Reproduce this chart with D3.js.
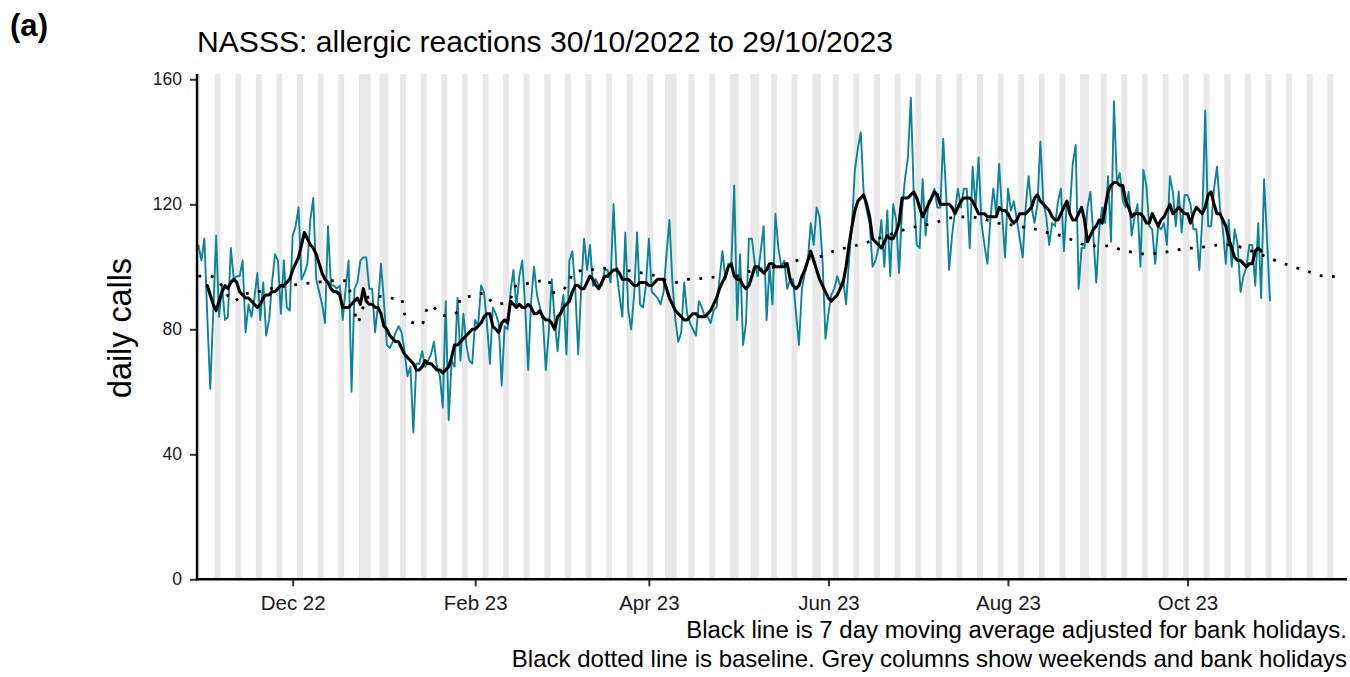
<!DOCTYPE html>
<html>
<head>
<meta charset="utf-8">
<script src="https://cdn.jsdelivr.net/npm/d3@7"></script>
<style>
  body { margin: 0; background: #ffffff; }
  svg { display: block; }
  text { font-family: "Liberation Sans", Arial, Helvetica, sans-serif; }
</style>
</head>
<body>
<svg id="chart" width="1350" height="677"></svg>
<script>
// ---------------- DATA ----------------
const panelLabel = "(a)";
const titleText = "NASSS: allergic reactions 30/10/2022 to 29/10/2023";
const yAxisTitle = "daily calls";
const captionLines = [
  "Black line is 7 day moving average adjusted for bank holidays.",
  "Black dotted line is baseline. Grey columns show weekends and bank holidays"
];

// first day of the daily series
const seriesStart = "2022-10-30";

// daily calls (one value per day from 30/10/2022 to 29/10/2023)
const dailyCalls = [
  107,102,109,84,61,85,110,
  84,94,83,84,106,96,97,
  97,102,79,88,84,90,98,
  83,95,78,83,95,104,102,
  85,102,87,86,110,113,119,
  96,98,101,115,122,96,92,
  88,82,113,94,94,93,94,
  83,93,102,60,93,95,102,
  103,103,93,93,79,88,101,
  89,75,74,76,79,81,79,
  73,65,68,47,69,69,73,
  68,70,72,76,68,65,55,
  89,51,70,68,90,70,85,
  75,70,69,83,81,94,92,
  82,69,87,85,82,62,81,
  80,92,99,87,97,102,87,
  67,89,100,91,87,83,67,
  79,96,83,73,85,91,72,
  102,105,93,72,93,109,99,
  107,94,96,94,94,99,99,
  95,120,99,91,84,111,86,
  80,91,111,88,87,94,109,
  92,91,90,88,92,104,115,
  95,83,76,79,95,85,82,
  80,78,89,87,84,84,82,
  86,87,96,105,96,101,100,
  126,83,104,75,82,109,109,
  101,97,105,113,83,100,88,
  117,106,100,102,93,96,96,
  85,75,93,98,102,114,107,
  119,116,102,77,85,91,93,
  97,94,96,88,102,114,131,
  138,143,123,118,114,100,102,
  106,115,100,118,97,120,115,
  98,118,128,135,154,123,107,
  106,128,110,121,122,125,119,
  119,141,123,99,110,118,125,
  119,125,125,106,132,119,135,
  114,107,101,115,125,117,133,
  117,103,125,118,121,115,109,
  103,119,129,119,114,120,140,
  121,116,107,114,113,121,125,
  105,121,118,133,139,93,106,
  106,119,124,110,95,112,119,
  114,129,108,153,127,130,121,
  119,124,110,116,120,100,131,
  126,113,112,101,113,112,114,
  107,129,124,113,124,111,123,
  123,120,112,112,99,115,150,
  113,113,125,132,119,112,101,
  115,100,112,107,92,97,100,
  107,107,94,114,90,128,109,
  89
];

// 7-day moving average, starts 3 days after seriesStart
const movingAvgOffset = 3;
const movingAvg = [
  94,91,88,86,89,92,94,93,95,96,
  95,92,91,90,90,89,88,87,88,90,
  91,91,92,92,93,94,94,95,96,99,
  101,103,107,111,109,107,106,104,101,98,
  96,95,93,92,92,91,87,87,87,88,
  89,90,88,93,89,88,88,87,87,85,
  81,80,78,77,76,76,74,72,71,70,
  69,67,67,68,70,69,69,68,67,67,
  66,67,68,71,75,75,76,77,78,79,
  80,80,81,82,84,85,85,81,80,79,
  82,83,82,89,88,87,88,87,87,88,
  87,85,85,86,84,83,83,82,80,84,
  85,87,88,89,92,94,94,93,93,95,
  97,96,94,93,95,97,97,98,99,99,
  98,96,96,96,95,94,94,95,95,95,
  94,94,95,96,96,96,93,90,88,86,
  85,84,83,83,84,85,85,84,84,84,
  85,86,88,90,93,95,97,100,101,97,
  96,96,94,93,94,97,100,100,99,98,
  99,101,101,100,100,100,100,101,96,94,
  93,94,97,99,102,105,102,99,96,94,
  92,90,89,90,91,93,95,100,107,113,
  118,121,122,123,120,116,109,108,107,106,
  108,110,109,109,111,114,122,122,122,123,
  124,122,119,116,118,120,122,124,123,120,
  120,120,120,119,117,119,121,122,122,122,
  121,119,117,117,117,116,116,116,116,119,
  118,118,117,115,114,115,117,117,117,118,
  119,122,123,121,120,119,118,116,115,115,
  117,119,121,117,115,115,117,119,115,108,
  110,112,113,115,114,119,124,126,127,127,
  126,126,121,119,116,117,117,117,116,114,
  114,117,115,113,115,116,118,120,117,118,
  119,118,117,117,114,117,119,118,117,119,
  123,124,120,117,117,115,113,109,106,103,
  102,102,101,100,101,101,105,106,105
];

// baseline (day offset from seriesStart, value)
const baselineDays = [0,4,7,12,15,20,27,31,35,40,44,48,50,53,54,55,57,60,65,69,70,72,76,77,79,81,84,88,89,93,97,99,102,106,107,111,115,119,120,124,126,128,133,137,146,150,154,162,166,170,175,183,187,196,204,212,216,220,225,229,233,241,246,250,254,258,262,267,271,275,279,284,288,292,296,300,305,309,313,317,322,326,330,334,339,343,347,351,356,360,364,368,372,377,381,385,389];
const baselineValues = [97,97,95,89,91,92,93.5,94,94.5,95,95.5,95.6,95.5,86,82,84,90,90.7,90,89.7,85,82.5,81.5,85,87.7,86,84.3,85.5,89.9,90.7,91.5,89.4,88.1,89.6,93.5,94.5,95.3,95.8,91.7,92.8,95.8,98.5,99,99.5,98.8,98.1,97.4,95,96,96.2,96.7,97.1,98.5,100,102.2,103.5,105.1,106.1,107.2,108.4,109.7,112.2,113.3,114,115.3,116,116,115.2,114.1,113.6,112.9,112.1,111,110.2,108.9,107.3,106.7,106.7,105.6,104.7,104.1,104.4,104.9,105.6,106.1,106.5,107,107,105.6,104.3,102.7,101.3,100,98.5,97.2,96.9,97.4];

// bank holidays (grey columns together with weekends)
const bankHolidays = ["2022-12-26","2022-12-27","2023-01-02","2023-04-07","2023-04-10","2023-05-01","2023-05-08","2023-05-29","2023-08-28"];

// axes
const yTicks = [0, 40, 80, 120, 160];
const xTickDates = ["2022-12-01","2023-02-01","2023-04-01","2023-06-01","2023-08-01","2023-10-01"];
const xTickLabels = ["Dec 22","Feb 23","Apr 23","Jun 23","Aug 23","Oct 23"];
const xDomain = ["2022-10-29T12:00:00Z", "2023-11-24T04:00:00Z"];
const yDomain = [0, 161.7];

// ---------------- DRAW ----------------
const svg = d3.select("#chart");
const plot = { left: 197, right: 1347, top: 74, bottom: 579.3 };

const x = d3.scaleUtc().domain(xDomain.map(d => new Date(d))).range([plot.left, plot.right]);
const y = d3.scaleLinear().domain(yDomain).range([plot.bottom, plot.top]);

const day0 = new Date(seriesStart + "T00:00:00Z");
const dayAt = i => d3.utcDay.offset(day0, i);
const halfDay = 12 * 3600 * 1000;

// grey columns: weekends + bank holidays, merged into runs
const holidaySet = new Set(bankHolidays);
const allDays = d3.utcDay.range(d3.utcDay.floor(x.domain()[0]), x.domain()[1]);
const runs = [];
allDays.forEach(d => {
  const dow = d.getUTCDay();
  const grey = dow === 0 || dow === 6 || holidaySet.has(d3.utcFormat("%Y-%m-%d")(d));
  if (!grey) return;
  const last = runs[runs.length - 1];
  if (last && +d3.utcDay.offset(last.end, 1) === +d) last.end = d;
  else runs.push({ start: d, end: d });
});

svg.append("defs").append("clipPath").attr("id", "plotclip")
  .append("rect").attr("x", plot.left).attr("y", plot.top - 2)
  .attr("width", plot.right - plot.left).attr("height", plot.bottom - plot.top + 2);

const g = svg.append("g").attr("clip-path", "url(#plotclip)");

g.selectAll("rect.wk").data(runs).join("rect")
  .attr("class", "wk")
  .attr("x", r => x(new Date(+r.start - halfDay)))
  .attr("width", r => x(new Date(+r.end + halfDay)) - x(new Date(+r.start - halfDay)))
  .attr("y", plot.top)
  .attr("height", plot.bottom - plot.top)
  .attr("fill", "#e8e8e8");

// daily series
const dailyPts = dailyCalls.map((v, i) => ({ d: dayAt(i), v }));
g.append("path").datum(dailyPts)
  .attr("fill", "none").attr("stroke", "#0b8498").attr("stroke-width", 1.9)
  .attr("stroke-linejoin", "round")
  .attr("d", d3.line().x(p => x(p.d)).y(p => y(p.v)));

// baseline (dotted)
const basePts = baselineDays.map((k, i) => ({ d: dayAt(k), v: baselineValues[i] }));
g.append("path").datum(basePts)
  .attr("fill", "none").attr("stroke", "#000").attr("stroke-width", 2.8)
  .attr("stroke-dasharray", "2.8,9.5")
  .attr("d", d3.line().curve(d3.curveMonotoneX).x(p => x(p.d)).y(p => y(p.v)));

// moving average
const maPts = movingAvg.map((v, i) => ({ d: dayAt(i + movingAvgOffset), v }));
g.append("path").datum(maPts)
  .attr("fill", "none").attr("stroke", "#000").attr("stroke-width", 3.1)
  .attr("stroke-linejoin", "round").attr("stroke-linecap", "round")
  .attr("d", d3.line().x(p => x(p.d)).y(p => y(p.v)));

// axes
const yAxis = svg.append("g").attr("transform", `translate(${plot.left},0)`)
  .call(d3.axisLeft(y).tickValues(yTicks).tickSize(7).tickSizeOuter(0).tickPadding(8));
const xAxis = svg.append("g").attr("transform", `translate(0,${plot.bottom})`)
  .call(d3.axisBottom(x).tickValues(xTickDates.map(d => new Date(d + "T00:00:00Z")))
    .tickFormat((d, i) => xTickLabels[i]).tickSize(7).tickSizeOuter(0).tickPadding(9));

[yAxis, xAxis].forEach(a => {
  a.select(".domain").remove();
  a.selectAll(".tick line").attr("stroke", "#333").attr("stroke-width", 2);
  a.selectAll(".tick text").attr("fill", "#1a1a1a").attr("font-family", null);
});
yAxis.selectAll(".tick text").attr("font-size", 17.5);
xAxis.selectAll(".tick text").attr("font-size", 20.5);

svg.append("line").attr("x1", plot.left).attr("x2", plot.left)
  .attr("y1", plot.top).attr("y2", plot.bottom + 1)
  .attr("stroke", "#000").attr("stroke-width", 2.4);
svg.append("line").attr("x1", plot.left - 1).attr("x2", plot.right)
  .attr("y1", plot.bottom).attr("y2", plot.bottom)
  .attr("stroke", "#000").attr("stroke-width", 2.4);

// text helpers
function fit(sel, target) {
  const w = sel.node().getComputedTextLength();
  const fs = parseFloat(sel.attr("font-size"));
  sel.attr("font-size", (fs * target / w).toFixed(2));
}

const pl = svg.append("text").attr("x", 10).attr("y", 36)
  .attr("font-size", 28).attr("font-weight", "bold").attr("fill", "#000").text(panelLabel);
fit(pl, 38);

const tt = svg.append("text").attr("x", 197).attr("y", 52)
  .attr("font-size", 30).attr("fill", "#000").text(titleText);
fit(tt, 696);

const yl = svg.append("text").attr("transform", "translate(131,328) rotate(-90)")
  .attr("text-anchor", "middle").attr("font-size", 28).attr("fill", "#000").text(yAxisTitle);
fit(yl, 140);

const capY = [637.5, 667];
const capW = [661, 835];
captionLines.forEach((t, i) => {
  const c = svg.append("text").attr("x", 1347).attr("y", capY[i])
    .attr("text-anchor", "end").attr("font-size", 22).attr("fill", "#000").text(t);
  fit(c, capW[i]);
});
</script>
</body>
</html>
